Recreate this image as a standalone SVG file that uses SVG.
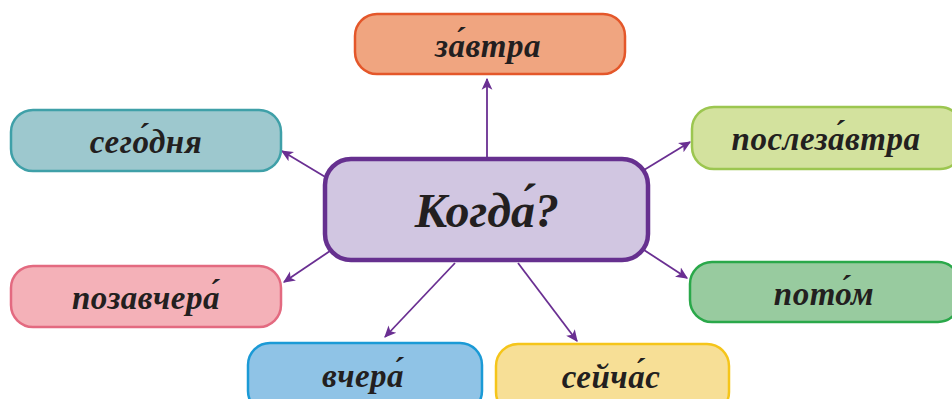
<svg xmlns="http://www.w3.org/2000/svg" width="952" height="399" viewBox="0 0 952 399">
<style>
.t{font-family:"Liberation Serif","Times New Roman",serif;font-weight:bold;font-style:italic;fill:#231f20;text-anchor:middle;font-size:33px;letter-spacing:0.5px}
.c{font-size:48px;letter-spacing:0}
.b{stroke-width:2.5}
.e{stroke:#6a2f92;stroke-width:1.8;fill:none;marker-end:url(#ah)}
</style>
<defs>
<marker id="ah" viewBox="0 0 10 10" refX="9" refY="5" markerWidth="12" markerHeight="12" markerUnits="userSpaceOnUse" orient="auto"><path d="M0,0.5 L10,5 L0,9.5 L2.5,5 Z" fill="#6a2f92"/></marker>
</defs>
<rect width="952" height="399" fill="#fff"/>
<g id="connectors">
<line class="e" x1="487" y1="158" x2="487" y2="79"/>
<line class="e" x1="327" y1="178" x2="282" y2="151"/>
<line class="e" x1="644" y1="170" x2="690" y2="142"/>
<line class="e" x1="330" y1="251" x2="284" y2="282"/>
<line class="e" x1="644" y1="250" x2="687" y2="278"/>
<line class="e" x1="455" y1="263" x2="385" y2="337"/>
<line class="e" x1="518" y1="263" x2="577" y2="341"/>
</g>
<g id="center">
<rect x="325" y="159" width="323" height="101" rx="26" fill="#d1c6e1" stroke="#66308f" stroke-width="4.5"/>
<text class="t c" x="487" y="227">Когда́?</text>
</g>
<g id="zavtra">
<rect class="b" x="355" y="14" width="270" height="60" rx="22" fill="#f0a580" stroke="#e4572a"/>
<text class="t" x="488" y="57">за́втра</text>
</g>
<g id="segodnya">
<rect class="b" x="11" y="110" width="270" height="61" rx="22" fill="#9dc8ce" stroke="#3fa0a8"/>
<text class="t" x="146" y="153">сего́дня</text>
</g>
<g id="poslezavtra">
<rect class="b" x="692" y="107" width="270" height="62" rx="22" fill="#d3e29e" stroke="#9cc650"/>
<text class="t" x="826" y="150">послеза́втра</text>
</g>
<g id="pozavchera">
<rect class="b" x="11" y="266" width="270" height="61" rx="22" fill="#f4b1b8" stroke="#e36a80"/>
<text class="t" x="146" y="309">позавчера́</text>
</g>
<g id="potom">
<rect class="b" x="690" y="262" width="270" height="60" rx="22" fill="#98cb9f" stroke="#2aa84a"/>
<text class="t" x="824" y="305">пото́м</text>
</g>
<g id="vchera">
<rect class="b" x="248" y="343" width="234" height="70" rx="22" fill="#8fc3e6" stroke="#1b9ad6"/>
<text class="t" x="363" y="387">вчера́</text>
</g>
<g id="seychas">
<rect class="b" x="496" y="344" width="233" height="70" rx="22" fill="#f7df96" stroke="#f5c51a"/>
<text class="t" x="611" y="388">сейча́с</text>
</g>
</svg>
